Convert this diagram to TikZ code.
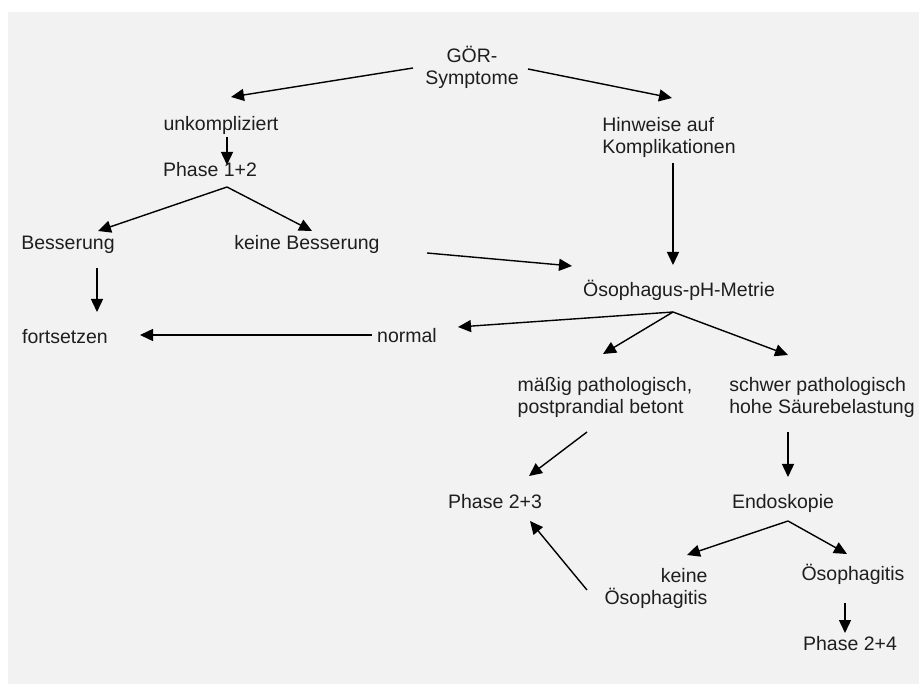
\documentclass[tikz,border=0pt]{standalone}
\usepackage{fontspec}
\setmainfont{Liberation Sans}
\usetikzlibrary{arrows.meta}
\definecolor{bgray}{HTML}{F2F2F2}
\definecolor{txt}{HTML}{1E1E1E}
\tikzset{
  lbl/.style={inner sep=0pt, text=txt, font=\fontsize{19.5}{22}\selectfont, text height=14pt, text depth=4pt},
  mlbl/.style={inner sep=0pt, text=txt, font=\fontsize{19.5}{22}\selectfont},
  arr/.style={line width=1.4pt, draw=black, -{Triangle[length=13pt,width=12pt]}}
}
\newcommand{\sh}[3]{([shift={(#2,#3)}]#1.center)}
\begin{document}
\begin{tikzpicture}[x=1pt,y=-1pt]
\useasboundingbox (0,0) rectangle (919,684);
\fill[white] (0,0) rectangle (919,684);
\fill[bgray] (8,12) rectangle (919,684);

\node[mlbl, align=center] (gor) at (472,67) {GÖR-\\Symptome};
\node[lbl] (unk) at (221,126) {unkompliziert};
\node[lbl] (p12) at (210,172) {Phase 1+2};
\node[lbl] (bes) at (68,245) {Besserung};
\node[lbl] (kbes) at (307,245) {keine Besserung};
\node[lbl] (fort) at (65,339) {fortsetzen};
\node[lbl] (norm) at (407,338) {normal};
\node[mlbl, align=left] (hin) at (669,137) {Hinweise auf\\Komplikationen};
\node[lbl] (oso) at (679,292) {Ösophagus-pH-Metrie};
\node[mlbl, align=left] (mas) at (605,397) {mäßig pathologisch,\\postprandial betont};
\node[mlbl, align=left] (sch) at (822,397) {schwer pathologisch\\hohe Säurebelastung};
\node[lbl] (p23) at (495,504) {Phase 2+3};
\node[lbl] (endo) at (783,504) {Endoskopie};
\node[mlbl, align=right] (keine) at (656,588) {keine\\Ösophagitis};
\node[lbl] (osoph) at (853,575) {Ösophagitis};
\node[lbl] (p24) at (850,645) {Phase 2+4};

\draw[arr] \sh{gor}{-59}{1} -- \sh{unk}{10}{-29};
\draw[arr] \sh{gor}{56}{2} -- \sh{hin}{3}{-39};
\draw[arr] \sh{unk}{6}{11} -- \sh{p12}{17}{-7};
\draw[arr] \sh{p12}{17}{15} -- \sh{bes}{30}{-14};
\draw[arr] \sh{p12}{17}{15} -- \sh{kbes}{5}{-14};
\draw[arr] \sh{bes}{29}{23} -- \sh{fort}{32}{-27};
\draw[arr] \sh{norm}{-35}{-3} -- \sh{fort}{75}{-4};
\draw[arr] \sh{kbes}{120}{8} -- \sh{oso}{-107}{-26};
\draw[arr] \sh{hin}{4}{26} -- \sh{oso}{-6}{-27};
\draw[arr] \sh{oso}{-6}{20} -- \sh{norm}{51}{-11};
\draw[arr] \sh{oso}{-6}{20} -- \sh{mas}{-2}{-43};
\draw[arr] \sh{oso}{-6}{20} -- \sh{sch}{-34}{-42};
\draw[arr] \sh{mas}{-18}{35} -- \sh{p23}{34}{-28};
\draw[arr] \sh{sch}{-34}{35} -- \sh{endo}{5}{-27};
\draw[arr] \sh{endo}{5}{17} -- \sh{keine}{31}{-33};
\draw[arr] \sh{endo}{5}{17} -- \sh{osoph}{-6}{-21};
\draw[arr] \sh{keine}{-69}{2} -- \sh{p23}{35}{17};
\draw[arr] \sh{osoph}{-8}{28} -- \sh{p24}{-5}{-12};
\end{tikzpicture}
\end{document}
